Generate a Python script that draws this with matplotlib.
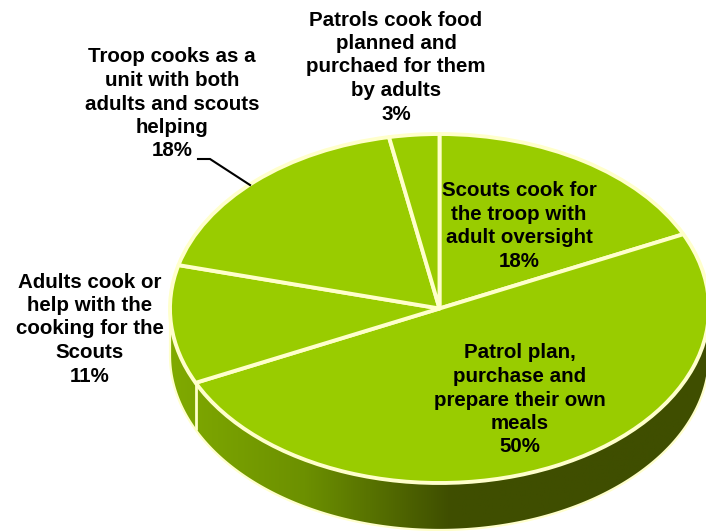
import numpy as np
import matplotlib
matplotlib.use("Agg")
import matplotlib.pyplot as plt
from matplotlib.colors import LinearSegmentedColormap
from matplotlib.patches import Polygon
from matplotlib.path import Path
from matplotlib.transforms import Affine2D

plt.rcParams["font.family"] = ["Liberation Sans", "DejaVu Sans"]

# share of troops per cooking arrangement, clockwise from 12 o'clock
categories = [
    "Scouts cook for\nthe troop with\nadult oversight",
    "Patrol plan,\npurchase and\nprepare their own\nmeals",
    "Adults cook or\nhelp with the\ncooking for the\nScouts",
    "Troop cooks as a\nunit with both\nadults and scouts\nhelping",
    "Patrols cook food\nplanned and\npurchaed for them\nby adults",
]
values = [18, 50, 11, 18, 3]
label_x = [519, 520, 90, 172, 396]
label_y = [226, 400, 329, 104, 67]

TOP_COLOR = "#99CC00"
EDGE_COLOR = "#FFFFCC"
CX, CY = 439.5, 308.5
RX, RY = 269.5, 174.5
DEPTH = 47
EDGE_W = 2.8

fig = plt.figure(figsize=(7.06, 5.31), dpi=100)
ax = fig.add_axes([0, 0, 1, 1])

# rim of the disc: lower half of the ellipse pushed down by DEPTH
t = np.linspace(np.pi, 0, 300)
rim_x = CX + RX * np.cos(t)
rim_y = CY + RY * np.sin(t)
rim = np.column_stack([
    np.r_[rim_x, rim_x[::-1]],
    np.r_[rim_y, rim_y[::-1] + DEPTH],
])
rim_patch = Polygon(rim, closed=True, facecolor="none", edgecolor=EDGE_COLOR,
                    linewidth=1.6, joinstyle="round", zorder=3)
ax.add_patch(rim_patch)

rim_cmap = LinearSegmentedColormap.from_list(
    "rim", [(0, "#80AA00"), (0.25, "#6C9000"), (0.52, "#3F4E00"), (1, "#3F4E00")])
gradient = ax.imshow(np.linspace(0, 1, 512)[None, :], cmap=rim_cmap, aspect="auto",
                     extent=(CX - RX, CX + RX, CY + RY + DEPTH, CY), zorder=2)
gradient.set_clip_path(Path(rim), ax.transData)

# squashed pie for the top face
wedges, _ = ax.pie(values, startangle=90, counterclock=False, colors=[TOP_COLOR],
                   wedgeprops={"edgecolor": EDGE_COLOR, "linewidth": EDGE_W,
                               "joinstyle": "round"})
squash = Affine2D().scale(RX, -RY).translate(CX, CY) + ax.transData
for wedge in wedges:
    wedge.set_transform(squash)
    wedge.set_zorder(4)

# the slice boundaries that reach the front of the disc carry on down the rim
bounds = np.cumsum(values) / np.sum(values) * 2 * np.pi
for b in bounds:
    if np.cos(b) < 0:
        x = CX + RX * np.sin(b)
        y = CY - RY * np.cos(b)
        ax.plot([x, x], [y, y + DEPTH], color=EDGE_COLOR, lw=2.0, zorder=3,
                solid_capstyle="butt")

for name, val, x, y in zip(categories, values, label_x, label_y):
    ax.text(x, y, f"{name}\n{val}%", ha="center", va="center", fontsize=14.8,
            fontweight="bold", color="black", linespacing=1.3, zorder=6)

# leader line for the troop slice
ax.plot([198, 210, 250], [159, 159, 185], color="black", lw=1.5, zorder=5,
        solid_joinstyle="miter")

ax.set_xlim(0, 706)
ax.set_ylim(531, 0)
ax.set_aspect("auto")
ax.axis("off")

fig.savefig("out.png", dpi=100)
